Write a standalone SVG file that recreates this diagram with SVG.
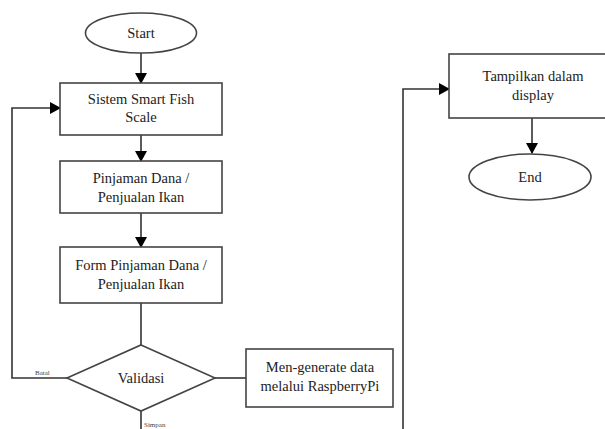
<svg xmlns="http://www.w3.org/2000/svg" width="605" height="429" viewBox="0 0 605 429">
<defs>
<marker id="ah" markerWidth="11" markerHeight="12" refX="10" refY="6" orient="auto" markerUnits="userSpaceOnUse">
<path d="M0,0 L11,6 L0,12 z" fill="#000"/>
</marker>
<style>
.shape{fill:#fff;stroke:#444;stroke-width:1.6}
.line{fill:none;stroke:#333;stroke-width:1.6}
.t{font-size:14.5px;fill:#222;text-anchor:middle}
.s{font-size:7px;fill:#444}
</style>
</defs>
<rect width="605" height="429" fill="#fff"/>
<g font-family="'Liberation Serif', 'DejaVu Serif', serif">
<g id="connectors">
<line class="line" x1="141" y1="53" x2="141" y2="83" marker-end="url(#ah)"/>
<line class="line" x1="141" y1="135" x2="141" y2="161" marker-end="url(#ah)"/>
<line class="line" x1="141" y1="213" x2="141" y2="247" marker-end="url(#ah)"/>
<line class="line" x1="141" y1="303" x2="141" y2="345"/>
<polyline class="line" points="67,378 12,378 12,108 60,108" marker-end="url(#ah)"/>
<line class="line" x1="215" y1="378" x2="246" y2="378"/>
<line class="line" x1="141" y1="411" x2="141" y2="429"/>
<polyline class="line" points="403,429 403,89 449,89" marker-end="url(#ah)"/>
<line class="line" x1="532" y1="118" x2="532" y2="153" marker-end="url(#ah)"/>
<text class="s" x="35" y="375">Batal</text>
<text class="s" x="144" y="427">Simpan</text>
</g>
<g id="start">
<ellipse class="shape" cx="141" cy="33" rx="55.5" ry="20"/>
<text class="t" x="141" y="38">Start</text>
</g>
<g id="sistem">
<rect class="shape" x="60" y="83" width="162" height="52"/>
<text class="t" x="141" y="104">Sistem Smart Fish</text>
<text class="t" x="141" y="122">Scale</text>
</g>
<g id="pinjaman">
<rect class="shape" x="60" y="161" width="162" height="52"/>
<text class="t" x="141" y="183">Pinjaman Dana /</text>
<text class="t" x="141" y="202">Penjualan Ikan</text>
</g>
<g id="form">
<rect class="shape" x="60" y="247" width="162" height="56"/>
<text class="t" x="141" y="270">Form Pinjaman Dana /</text>
<text class="t" x="141" y="289">Penjualan Ikan</text>
</g>
<g id="validasi">
<polygon class="shape" points="141,345 215,378 141,411 67,378"/>
<text class="t" x="141" y="383">Validasi</text>
</g>
<g id="generate">
<rect class="shape" x="246" y="349" width="147" height="58"/>
<text class="t" x="320" y="372">Men-generate data</text>
<text class="t" x="320" y="391">melalui RaspberryPi</text>
</g>
<g id="tampilkan">
<rect class="shape" x="449" y="54" width="170" height="64"/>
<text class="t" x="533" y="81">Tampilkan dalam</text>
<text class="t" x="533" y="100">display</text>
</g>
<g id="end">
<ellipse class="shape" cx="530" cy="177" rx="61" ry="23"/>
<text class="t" x="530" y="182">End</text>
</g>
</g>
</svg>
